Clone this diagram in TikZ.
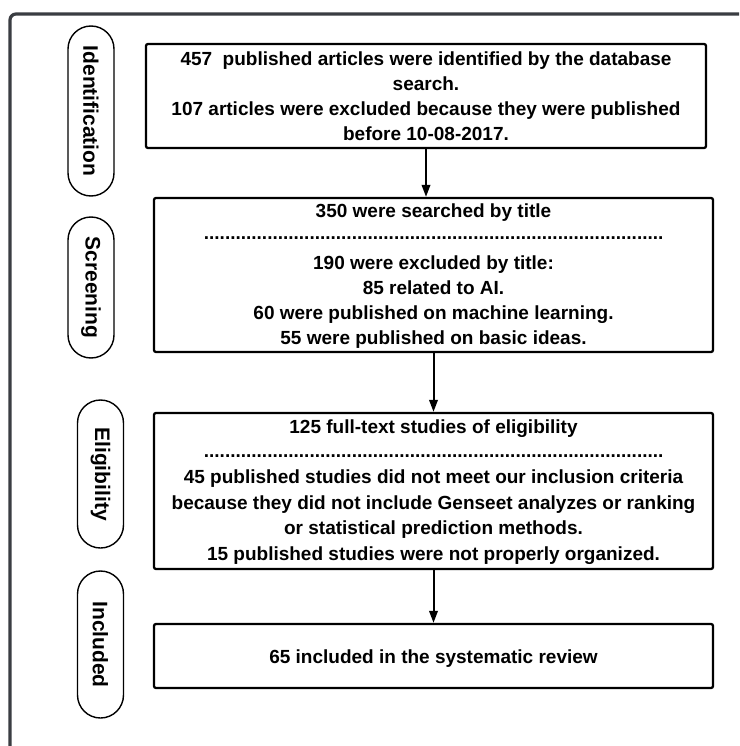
\documentclass[tikz,border=0pt]{standalone}
\usepackage{fontspec}
\setmainfont{Liberation Sans}
\usetikzlibrary{arrows.meta}
% a row of bold full stops used as a separator line
\ExplSyntaxOn
\cs_new:Npn \dotrow { \prg_replicate:nn { 87 } { . } }
\ExplSyntaxOff
\definecolor{framegray}{RGB}{58,61,66}
\begin{document}
\begin{tikzpicture}[x=1pt,y=-1pt,
  frameline/.style={draw=framegray, line width=3.2pt, rounded corners=6pt},
  stagebox/.style={draw=black, line width=2.3pt, rounded corners=2pt, inner sep=0pt, fill=white},
  phase/.style={draw=black, line width=1.4pt, rounded corners=23pt, rotate=-90, inner sep=0pt,
    minimum height=46pt, font=\fontsize{21}{25}\selectfont\bfseries},
  txt/.style={anchor=base, inner sep=0pt, font=\fontsize{19}{25}\selectfont\bfseries},
  flow/.style={draw=black, line width=2pt, -{Triangle[length=12pt,width=8.5pt]}}]

\fill[white] (0,0) rectangle (739,746);
\useasboundingbox (0,0) rectangle (739,746);

% outer frame, running past the right and bottom edges
\begin{scope}
  \clip (0,0) rectangle (739,746);
  \draw[frameline] (10,14) rectangle (800,800);
\end{scope}

% phase labels on the left
\node[phase, minimum width=170pt] (pid) at (91,111) {Identification};
\node[phase, minimum width=141pt] (psc) at (91,287.5) {Screening};
\node[phase, minimum width=148pt] (pel) at (100.5,474) {Eligibility};
\node[phase, minimum width=147pt] (pin) at (100.5,644.5) {Included};

% stage boxes
\node[stagebox, minimum width=560pt, minimum height=104pt] (b1) at (426,96) {};
\node[stagebox, minimum width=559pt, minimum height=154pt] (b2) at (433.5,275) {};
\node[stagebox, minimum width=559pt, minimum height=156pt] (b3) at (433.5,491) {};
\node[stagebox, minimum width=559pt, minimum height=64pt] (b4) at (433.5,656) {};

% identification text
\node[txt] (t1a) at (426,65.3) {457\ \ published articles were identified by the database};
\node[txt] (t1b) at (426,90.3) {search.};
\node[txt] (t1c) at (426,115.3) {107 articles were excluded because they were published};
\node[txt] (t1d) at (426,140.3) {before 10-08-2017.};

% screening text
\node[txt] (t2a) at (433.5,217) {350 were searched by title};
\node[txt] (t2s) at (433.5,239.5) {\dotrow};
\node[txt] (t2b) at (433.5,269) {190 were excluded by title:};
\node[txt] (t2c) at (433.5,294) {85 related to AI.};
\node[txt] (t2d) at (433.5,319) {60 were published on machine learning.};
\node[txt] (t2e) at (433.5,344) {55 were published on basic ideas.};

% eligibility text
\node[txt] (t3a) at (433.5,433.5) {125 full-text studies of eligibility};
\node[txt] (t3s) at (433.5,457.5) {\dotrow};
\node[txt] (t3b) at (433.5,483.5) {45 published studies did not meet our inclusion criteria};
\node[txt] (t3c) at (433.5,509.5) {because they did not include Genseet analyzes or ranking};
\node[txt] (t3d) at (433.5,534.5) {or statistical prediction methods.};
\node[txt] (t3e) at (433.5,560) {15 published studies were not properly organized.};

% included text
\node[txt] (t4a) at (433.5,663) {65 included in the systematic review};

% connectors
\draw[flow] (b1.south) -- (b1.south |- b2.north);
\draw[flow] (b2.south) -- (b3.north);
\draw[flow] (b3.south) -- (b4.north);
\end{tikzpicture}
\end{document}
